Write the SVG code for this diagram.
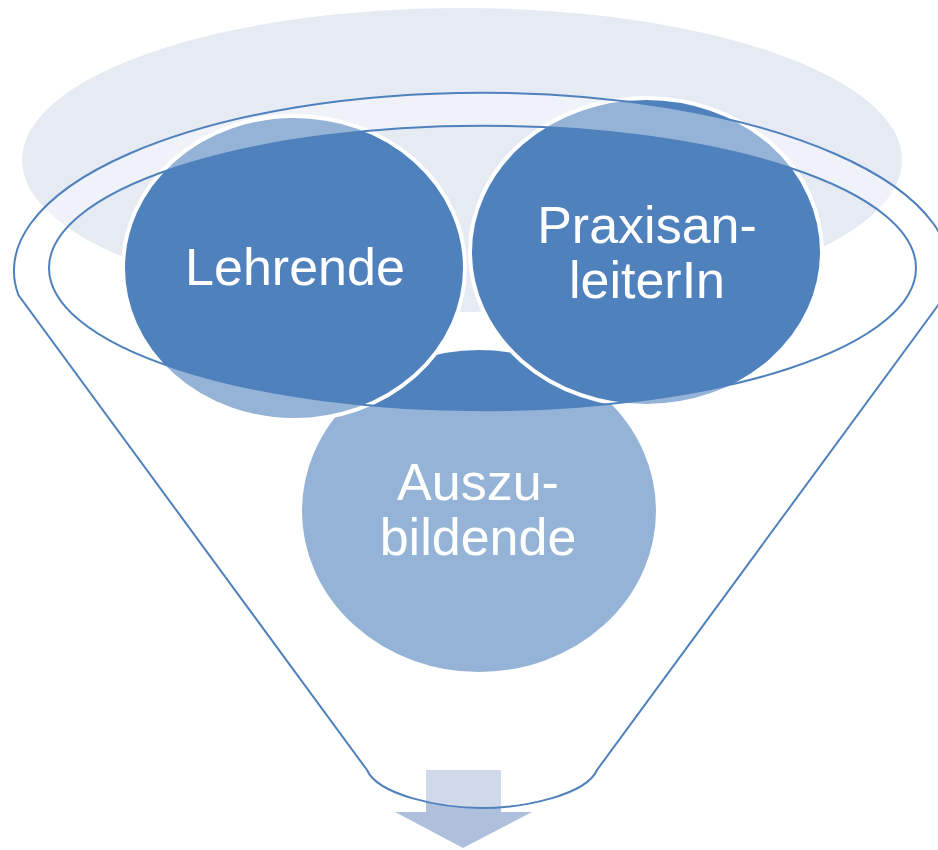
<svg xmlns="http://www.w3.org/2000/svg" width="938" height="850" viewBox="0 0 938 850">
  <style>
    .node { fill: #4F81BD; stroke: #FFFFFF; stroke-width: 4; }
    .label { fill: #FFFFFF; font-family: "Liberation Sans", Arial, sans-serif; font-size: 52px; text-anchor: middle; }
    .funnel { fill: #FFFFFF; fill-opacity: 0.4; fill-rule: evenodd; stroke: #4F81BD; stroke-width: 2; }
  </style>
  <rect width="938" height="850" fill="#FFFFFF"/>
  <g id="background">
    <ellipse cx="462" cy="160" rx="440" ry="152" fill="#E5EAF3"/>
  </g>
  <g id="connectors">
    <path d="M426,770 H501 V812 H532 L463,848 L395,812 H426 Z" fill="#AFC0DC"/>
  </g>
  <g id="node-auszubildende">
    <ellipse class="node" cx="479" cy="511" rx="179" ry="163"/>
  </g>
  <g id="node-lehrende">
    <ellipse class="node" cx="294" cy="268" rx="171" ry="152"/>
  </g>
  <g id="node-praxisanleiterin">
    <ellipse class="node" cx="646" cy="252" rx="176" ry="154"/>
  </g>
  <g id="funnel">
    <path class="funnel" d="M18.4,295 A468,178 0 1 1 945.6,295 L597,770 C586,795 524,808 482,808 C440,808 378,795 367,770 Z M49,268 A433,142 0 1 0 916,268 A433,142 0 1 0 49,268 Z"/>
  </g>
  <g id="labels">
    <text class="label" x="295" y="285">Lehrende</text>
    <text class="label" x="647" y="243">Praxisan-</text>
    <text class="label" x="647" y="298">leiterIn</text>
    <text class="label" x="478" y="500">Auszu-</text>
    <text class="label" x="478" y="555">bildende</text>
  </g>
</svg>
